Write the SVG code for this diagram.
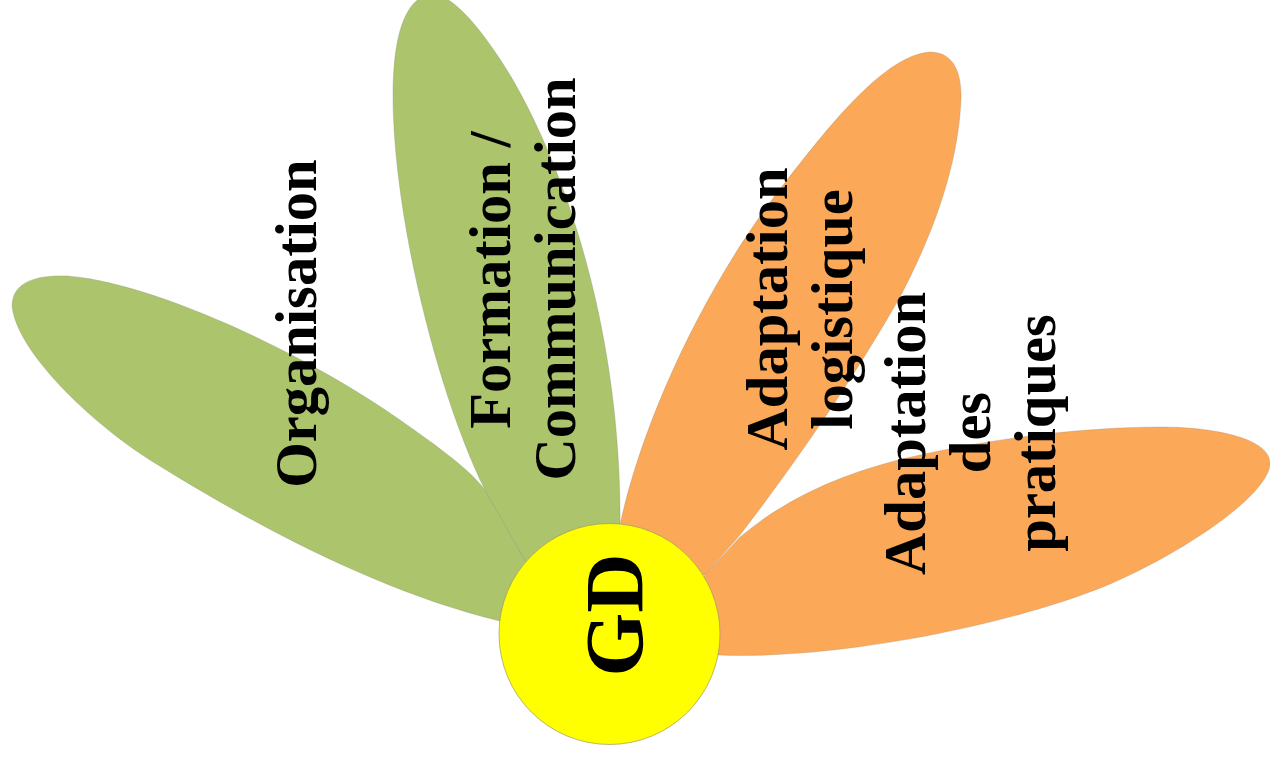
<svg xmlns="http://www.w3.org/2000/svg" width="1270" height="760" viewBox="0 0 1270 760">
<style>
.g{fill:#acc46c;stroke:#7f8a70;stroke-opacity:.3;stroke-width:1}
.o{fill:#fba858;stroke:#8a8070;stroke-opacity:.25;stroke-width:1}
text{font-family:"Liberation Serif","Times New Roman",serif;font-weight:bold;fill:#000;text-anchor:middle}
.t{font-size:58.5px}
</style>
<rect width="1270" height="760" fill="#fff"/>
<g id="petal-organisation"><path class="g" d="M500 621C370 590 235 513 150 460C90 422 15 350 12 305C13 280 40 275 67 276C150 282 300 350 400 420C440 448 470 470 485 490L526 562Z"/></g>
<g id="petal-formation"><path class="g" d="M526 562L485 490C440 400 393 220 393 95C393 50 400 0 430 -6C450 -8 480 25 513 80C570 180 622 340 620 530L570 570Z"/></g>
<g id="petal-logistique"><path class="o" d="M620 525C640 430 700 290 787 180C830 125 885 55 930 52C955 52 962 75 961 100C958 170 930 240 900 297C850 385 790 470 740 535L705 575L640 570Z"/></g>
<g id="petal-pratiques"><path class="o" d="M705 575L740 537C790 495 850 470 920 455C1000 437 1090 427 1160 427C1220 427 1270 440 1270 463C1270 495 1180 555 1103 587C1000 628 830 660 718 655L680 620Z"/></g>
<g id="node-gd"><circle cx="609.5" cy="634" r="110.5" fill="#ffff00" stroke="#a09a60" stroke-opacity=".7" stroke-width="1"/>
<text transform="translate(642 615) rotate(-90)" style="font-size:82px">GD</text></g>
<g id="label-organisation"><text class="t" transform="translate(316 323.5) rotate(-90)">Organisation</text></g>
<g id="label-formation"><text class="t" transform="translate(510 280) rotate(-90)">Formation /</text><text class="t" transform="translate(575 279) rotate(-90)">Communication</text></g>
<g id="label-logistique"><text class="t" transform="translate(787 309) rotate(-90)">Adaptation</text><text class="t" transform="translate(852 309.5) rotate(-90)">logistique</text></g>
<g id="label-pratiques"><text class="t" transform="translate(925 433.5) rotate(-90)">Adaptation</text><text class="t" transform="translate(990 432.5) rotate(-90)">des</text><text class="t" transform="translate(1055 433) rotate(-90)">pratiques</text></g>
<g id="connectors"></g>
</svg>
